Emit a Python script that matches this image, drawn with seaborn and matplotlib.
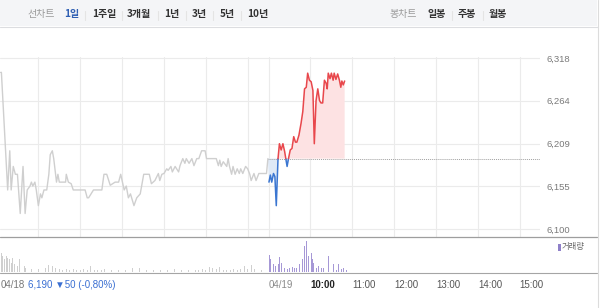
import numpy as np
import pandas as pd
import matplotlib
matplotlib.use("Agg")
import matplotlib.pyplot as plt
import seaborn as sns
from matplotlib.lines import Line2D
from matplotlib.patches import Rectangle

# ---------------- data (minutes since 09:00 on 04/18; 04/19 starts at 390) -------------
prev_t = [6, 7, 16, 19, 21, 24, 27, 30, 32, 34,
          38, 41, 44, 48, 50, 52, 55, 57, 60, 63,
          65, 68, 72, 75, 77, 80, 82, 86, 88, 90,
          99, 100, 103, 107, 110, 113, 127, 130, 132, 139,
          151, 154, 158, 163, 170, 175, 178, 183, 186, 189,
          192, 197, 201, 206, 211, 219, 222, 227, 232, 234,
          237, 240, 244, 246, 250, 252, 256, 261, 263, 267,
          270, 272, 276, 280, 283, 287, 290, 294, 299, 301,
          315, 318, 320, 322, 325, 330, 332, 334, 337, 339,
          342, 345, 348, 350, 353, 357, 360, 363, 365, 369,
          372, 376, 378, 387, 389]
prev_p = [6300, 6300, 6150, 6200, 6150, 6180, 6170, 6170, 6145, 6120,
          6180, 6120, 6150, 6155, 6160, 6155, 6160, 6150, 6130, 6145,
          6140, 6150, 6150, 6170, 6195, 6200, 6190, 6160, 6170, 6160,
          6160, 6170, 6160, 6158, 6150, 6150, 6150, 6140, 6140, 6150,
          6150, 6170, 6170, 6156, 6160, 6160, 6170, 6150, 6155, 6140,
          6145, 6130, 6140, 6145, 6170, 6170, 6158, 6162, 6171, 6162,
          6170, 6171, 6177, 6175, 6180, 6173, 6180, 6173, 6181, 6190,
          6184, 6190, 6184, 6190, 6181, 6190, 6190, 6200, 6200, 6190,
          6190, 6181, 6188, 6180, 6186, 6180, 6190, 6180, 6170, 6180,
          6170, 6177, 6171, 6177, 6171, 6180, 6177, 6170, 6162, 6171,
          6162, 6171, 6171, 6171, 6190]

today_t = [390.5, 392.5, 394.5, 397, 399, 401, 403.5, 405.5, 408, 410.5,
           413, 415, 416.5, 418.5, 421, 423.5, 426, 428.5, 430.5, 433.5,
           436.5, 439, 441.5, 444, 446, 448.5, 451, 453.5, 455.5, 458,
           460.5, 463, 465, 467.5, 470, 472.5, 474, 475.5, 478, 480,
           482.5, 484, 486.5, 489, 491.5, 493.5, 495, 497, 499]
today_p = [6160, 6169, 6160, 6171, 6167, 6130, 6190, 6209, 6201, 6209,
           6199, 6188, 6180, 6190, 6201, 6203, 6218, 6211, 6211, 6220,
           6235, 6250, 6279, 6281, 6299, 6290, 6288, 6277, 6209, 6264,
           6279, 6264, 6261, 6261, 6290, 6286, 6279, 6299, 6292, 6299,
           6290, 6299, 6291, 6298, 6290, 6281, 6289, 6284, 6289]

prev_close = 6190
prev_close_t = 389

y_ticks = [6100, 6155, 6209, 6264, 6318]
y_tick_labels = ["6,100", "6,155", "6,209", "6,264", "6,318"]

hour_marks_prev = [60, 120, 180, 240, 300, 360]
x_ticks = [390, 450, 510, 570, 630, 690, 750]
x_tick_labels = ["04/19", "10:00", "11:00", "12:00", "13:00", "14:00", "15:00"]

vol_prev_early_t = [7, 9, 11, 14, 16, 19, 21, 23, 26, 28, 30, 33, 35, 38, 40, 42, 45]
vol_prev_early_v = [19, 16, 13, 16, 14, 13, 9, 14, 8, 11, 6, 13, 12, 8, 6, 4, 4]
vol_prev_late_t = list(range(50, 390, 5))
vol_prev_late_v = [3, 4, 3, 3, 4, 7, 6, 4, 3, 2,
                   3, 2, 3, 2, 2, 3, 2, 6, 2, 2,
                   2, 3, 2, 2, 3, 2, 2, 2, 3, 4,
                   2, 4, 2, 2, 2, 2, 2, 2, 3, 2,
                   2, 3, 2, 2, 3, 2, 2, 2, 2, 3,
                   2, 5, 4, 3, 5, 2, 2, 2, 3, 2,
                   3, 6, 3, 7, 3, 5, 2, 3]
vol_today_t = [391.5, 393, 395, 397, 399.5, 402, 404, 406, 408, 410.5,
               413, 415, 417.5, 420, 423.5, 424.5, 427, 429.5, 432, 434.5,
               436.5, 439, 441.5, 444, 445, 447, 449.5, 451, 452.5, 454.5,
               456.5, 459, 461.5, 463.5, 466, 468.5, 471, 473.5, 475.5, 478,
               481, 483, 485, 487.5, 490, 492.5, 494.5, 497, 499.5, 502]
vol_today_v = [17, 13, 6, 8, 6, 20, 8, 15, 9, 8,
               4, 3, 3, 4, 6, 5, 4, 4, 3, 8,
               11, 13, 26, 31, 19, 16, 31, 19, 13, 9,
               11, 4, 6, 4, 4, 4, 3, 4, 16, 3,
               4, 8, 3, 2, 8, 3, 3, 4, 2, 2]

# ---------------- style ----------------
sns.set_style("white")
plt.rcParams["font.family"] = ["Liberation Sans", "Noto Sans CJK KR", "DejaVu Sans"]

W, H = 600, 308
fig = plt.figure(figsize=(W / 100, H / 100), dpi=100)

def fx(px):
    return px / W

def fy(py):
    return 1 - py / H

XLIM = (5, 779)
main_bottom_px = 237
main_top_px = 56.7
ax = fig.add_axes([0, fy(main_bottom_px), fx(540), (main_bottom_px - main_top_px) / H])
ax.set_xlim(*XLIM)
ax.set_ylim(6090, 6320)
for s in ax.spines.values():
    s.set_visible(False)

# grid
ax.set_yticks(y_ticks)
ax.set_yticklabels(y_tick_labels)
ax.set_xticks(hour_marks_prev + x_ticks)
ax.tick_params(axis="x", length=0, labelbottom=False)
ax.tick_params(axis="y", length=0, labelleft=False, labelright=True, pad=5,
               labelsize=6.8, labelcolor="#7a7a7a")
ax.grid(True, color="#ebebeb", linewidth=0.8)
ax.set_axisbelow(True)

# fills for today vs previous close
ft = np.array([prev_close_t] + today_t, dtype=float)
fp = np.array([prev_close] + today_p, dtype=float)
ax.fill_between(ft, fp, prev_close, where=fp >= prev_close, interpolate=True,
                color="#fde2e3", linewidth=0, zorder=1)
ax.fill_between(ft, fp, prev_close, where=fp <= prev_close, interpolate=True,
                color="#dfe9f6", linewidth=0, zorder=1)

# previous close reference line
ref = pd.DataFrame({"t": [prev_close_t, XLIM[1]], "p": [prev_close, prev_close]})
sns.lineplot(data=ref, x="t", y="p", ax=ax, color="#a0a0a0", linewidth=0.7,
             linestyle=(0, (1, 1)), zorder=2)

# previous day line
prev_df = pd.DataFrame({"t": prev_t, "p": prev_p})
sns.lineplot(data=prev_df, x="t", y="p", ax=ax, color="#cfcfcf", linewidth=1.0,
             estimator=None, sort=False, zorder=3)

# today line, coloured by side of previous close
def colour_runs(t, p, base):
    runs = []
    cur = None
    for i in range(len(t) - 1):
        a, b = p[i], p[i + 1]
        ta, tb = t[i], t[i + 1]
        if (a - base) * (b - base) < 0:
            tc = ta + (base - a) * (tb - ta) / (b - a)
            pieces = [("up" if a > base else "down", (ta, a), (tc, base)),
                      ("up" if b > base else "down", (tc, base), (tb, b))]
        else:
            s = "up" if (a > base or b > base) else "down"
            pieces = [(s, (ta, a), (tb, b))]
        for s, p0, p1 in pieces:
            if cur is not None and cur[0] == s:
                cur[1].append(p1)
            else:
                cur = (s, [p0, p1])
                runs.append(cur)
    rows = []
    for k, (s, pts) in enumerate(runs):
        for j, (tt, pp) in enumerate(pts):
            rows.append({"seg": k, "side": s, "t": tt, "p": pp, "ord": j})
    return pd.DataFrame(rows)

tdf = colour_runs(today_t, today_p, prev_close)
sns.lineplot(data=tdf, x="t", y="p", units="seg", hue="side", estimator=None,
             sort=False, palette={"up": "#e8474c", "down": "#3b76d1"},
             linewidth=1.1, legend=False, ax=ax, zorder=4)
ax.set_xlabel("")
ax.set_ylabel("")

# ---------------- volume panel ----------------
vol_bottom_px = 272
vax = fig.add_axes([0, fy(vol_bottom_px), fx(540), 35 / H])
vax.set_xlim(*XLIM)
vax.set_ylim(0, 35)
for s in vax.spines.values():
    s.set_visible(False)
vax.set_yticks([])
vax.bar(vol_prev_early_t + vol_prev_late_t, vol_prev_early_v + vol_prev_late_v,
        width=1.0, color="#cfcfcf", linewidth=0)
vax.bar(vol_today_t, vol_today_v, width=1.0, color="#a698d6", linewidth=0)
vax.set_xticks(x_ticks)
vax.set_xticklabels(x_tick_labels, ha="left")
vax.tick_params(axis="x", direction="out", length=4.3, width=0.8, color="#9a9a9a",
                pad=1.8, labelsize=7, labelcolor="#555555")
labs = vax.get_xticklabels()
labs[0].set_color("#8a8a8a")
labs[1].set_color("#222222")
labs[1].set_fontweight("bold")

# ---------------- frame / decorations ----------------
fig.add_artist(Rectangle((0, fy(26)), fx(597), 26 / H, transform=fig.transFigure,
                         facecolor="#f4f5f7", edgecolor="none", zorder=0))
fig.add_artist(Line2D([0, fx(597)], [fy(26.5), fy(26.5)], color="#dcdde0", linewidth=0.8))
fig.add_artist(Line2D([0, fx(597)], [fy(237), fy(237)], color="#9e9e9e", linewidth=0.9))
fig.add_artist(Line2D([0, fx(597)], [fy(272.5), fy(272.5)], color="#a5a5a5", linewidth=0.8))
fig.add_artist(Line2D([fx(597.5), fx(597.5)], [0, 1], color="#dcdcdc", linewidth=0.8))

ty = fy(14.5)
top_items = [
    ("선차트", 27, "#9a9a9a", "normal"),
    ("1일", 64, "#2f5fb3", "bold"),
    ("1주일", 92, "#333333", "bold"),
    ("3개월", 127, "#333333", "bold"),
    ("1년", 164, "#333333", "bold"),
    ("3년", 192, "#333333", "bold"),
    ("5년", 220, "#333333", "bold"),
    ("10년", 247, "#333333", "bold"),
    ("봉차트", 389, "#9a9a9a", "normal"),
    ("일봉", 428, "#333333", "bold"),
    ("주봉", 458, "#333333", "bold"),
    ("월봉", 489, "#333333", "bold"),
]
for txt, xp, col, wt in top_items:
    fig.text(fx(xp), ty, txt, ha="left", va="center", fontsize=7.2, color=col,
             fontweight=wt, family=["Noto Sans CJK KR", "DejaVu Sans"])
for xp in [85, 122, 158, 186, 213, 241, 452, 483]:
    fig.add_artist(Line2D([fx(xp), fx(xp)], [fy(10.5), fy(19.5)], color="#e4e4e4",
                          linewidth=0.8))

# bottom-left summary
fig.text(fx(0.5), fy(285), "04/18", ha="left", va="center", fontsize=7, color="#777777")
fig.text(fx(28.5), fy(285), "6,190 ▼50 (-0,80%)", ha="left", va="center", fontsize=7,
         color="#3a6fd2")

# volume legend
fig.add_artist(Rectangle((fx(558), fy(251)), fx(2.5), 7 / H, transform=fig.transFigure,
                         facecolor="#8f80c9", edgecolor="none"))
fig.text(fx(562), fy(247), "거래량", ha="left", va="center", fontsize=6, color="#666666",
         family=["Noto Sans CJK KR", "DejaVu Sans"])

fig.savefig("out.png", dpi=100)
